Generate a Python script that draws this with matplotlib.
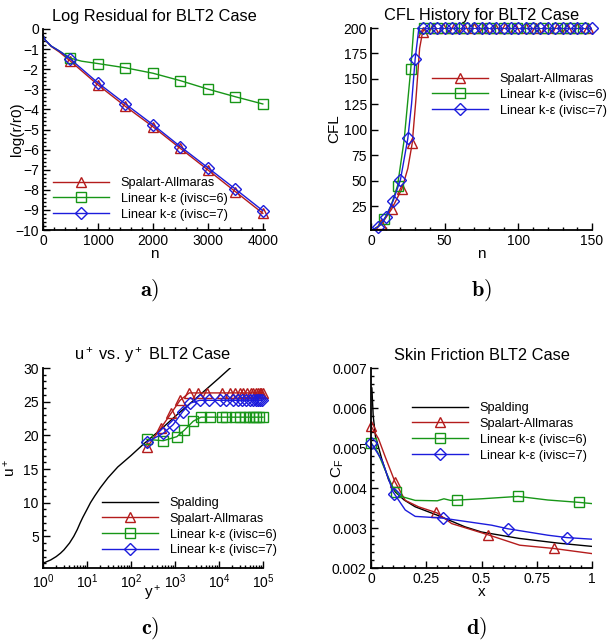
import matplotlib.pyplot as plt
from matplotlib.lines import Line2D
from matplotlib.ticker import MultipleLocator, FormatStrFormatter, NullFormatter, LogLocator

plt.rcParams['font.family'] = 'Liberation Sans'
plt.rcParams['mathtext.fontset'] = 'custom'
plt.rcParams['mathtext.rm'] = 'Liberation Sans'
plt.rcParams['mathtext.it'] = 'Liberation Sans:italic'
plt.rcParams['mathtext.bf'] = 'Liberation Sans:bold'

RED = '#b41c1c'
GREEN = '#179617'
BLUE = '#1c1cdc'
LABELS = ['Spalart-Allmaras', 'Linear k-\u03b5 (ivisc=6)', 'Linear k-\u03b5 (ivisc=7)']

# a) residual history
res_n = [0, 40, 150, 300, 500, 1000, 1500, 2000, 2500, 3000, 3500, 4000]
res_sa = [-0.3, -0.55, -0.87, -1.15, -1.6, -2.78, -3.85, -4.86, -5.94, -7.01, -8.09, -9.17]
res_ke7 = [-0.3, -0.55, -0.85, -1.1, -1.5, -2.68, -3.73, -4.76, -5.85, -6.9, -7.96, -9.04]
res_n6 = [0, 40, 150, 300, 500, 700, 1000, 1500, 2000, 2500, 3000, 3500, 4000]
res_ke6 = [-0.3, -0.55, -0.85, -1.1, -1.45, -1.6, -1.72, -1.93, -2.2, -2.57, -2.99, -3.37, -3.73]

# b) CFL history (lines and symbol positions)
cfl_n_sa = [1, 7, 14, 21, 25, 28, 30.5, 33, 35, 36.5, 150]
cfl_sa = [1.5, 7, 22, 42, 62, 87, 130, 180, 196, 200, 200]
cfl_n_ke6 = [1, 5, 9, 13.5, 18, 22.5, 27, 29, 150]
cfl_ke6 = [1.5, 5, 12, 25, 45, 90, 160, 200, 200]
cfl_n_ke7 = [1, 5, 10, 15, 20, 25, 27.5, 30, 32.5, 150]
cfl_ke7 = [1.5, 4.7, 14.5, 30, 51, 91.5, 125, 170, 200, 200]
sym_n_sa = list(range(7, 148, 7))
sym_sa = [7, 22, 42, 87, 196] + [200] * 16
sym_n_ke6 = list(range(9, 145, 9))
sym_ke6 = [12, 45, 160] + [200] * 13
sym_n_ke7 = list(range(5, 151, 5))
sym_ke7 = [4.7, 14.5, 30, 51, 91.5, 170] + [200] * 24

# c) velocity profile
spal_yp = [1, 1.5, 2, 2.5, 3, 4, 5, 6, 7, 8, 10, 12, 15, 20, 30, 50, 100, 200, 500,
           1000, 3000, 10000, 18000]
spal_up = [1.0, 1.5, 2.0, 2.5, 3.0, 4.0, 5.0, 6.0, 7.0, 7.8, 9.0, 10.0, 11.0, 12.2, 13.7,
           15.3, 17.0, 18.8, 21.0, 22.8, 25.5, 28.5, 30.0]
up_yp_sa = [230, 480, 820, 1300, 2100, 3400, 5200, 12000, 17500, 23000, 29500, 36000,
            43500, 52000, 60000, 68000, 76000, 84000, 92000, 100000]
up_sa = [18.2, 21.1, 23.3, 25.2, 26.3] + [26.3] * 15
up_yp_ke6 = [230, 540, 1100, 1620, 2600, 3900, 6200, 11500, 14800, 22900, 29500, 38000,
             47900, 58900, 70800, 83200, 100000]
up_ke6 = [19.4, 19.2, 19.8, 20.75, 22.1] + [22.7] * 12
up_yp_ke7 = [230, 540, 910, 1490, 2250, 3650, 6000, 10500, 14800, 20900, 26900, 33900,
             41700, 50100, 58900, 67600, 77600, 87100, 95500]
up_ke7 = [19.0, 20.3, 21.6, 23.5, 24.8] + [25.2] * 14

# d) skin friction
cf_x_spal = [0.004, 0.01, 0.02, 0.05, 0.08, 0.11, 0.15, 0.2, 0.3, 0.425, 0.5, 0.67, 0.85, 1.0]
cf_spal = [0.0065, 0.0058, 0.0053, 0.0047, 0.0042, 0.0039, 0.0037, 0.00353, 0.00332,
           0.00303, 0.0029, 0.00274, 0.00262, 0.00254]
cf_x_sa = [0, 0.034, 0.065, 0.108, 0.155, 0.215, 0.298, 0.365, 0.53, 0.673, 0.824, 1.0]
cf_sa = [0.00555, 0.00523, 0.00477, 0.00416, 0.00369, 0.00353, 0.00338, 0.00311,
         0.00283, 0.00257, 0.00249, 0.00236]
cf_x_ke6 = [0, 0.03, 0.06, 0.1, 0.13, 0.2, 0.3, 0.33, 0.36, 0.5, 0.666, 0.8, 0.943, 1.0]
cf_ke6 = [0.00513, 0.0049, 0.0045, 0.004, 0.0038, 0.00369, 0.00368, 0.00373, 0.00369,
          0.00373, 0.00379, 0.0037, 0.00364, 0.00361]
cf_x_ke7 = [0, 0.05, 0.1, 0.155, 0.2, 0.32, 0.546, 0.62, 0.8, 0.887, 1.0]
cf_ke7 = [0.00513, 0.00469, 0.0039, 0.00345, 0.00329, 0.00325, 0.00307, 0.00298,
          0.00282, 0.00276, 0.00272]
cf_sym_x_sa = [0, 0.108, 0.296, 0.531, 0.827]
cf_sym_sa = [0.00555, 0.00416, 0.00339, 0.00283, 0.0025]
cf_sym_x_ke6 = [0, 0.113, 0.388, 0.666, 0.943]
cf_sym_ke6 = [0.00513, 0.00391, 0.0037, 0.00379, 0.00364]
cf_sym_x_ke7 = [0, 0.105, 0.328, 0.62, 0.887]
cf_sym_ke7 = [0.00513, 0.00384, 0.00325, 0.00298, 0.00276]

W, H = 608, 643
fig = plt.figure(figsize=(W / 100, H / 100), dpi=100)


def box(l, t, r, b):
    return [l / W, 1 - b / H, (r - l) / W, (b - t) / H]


def style_axes(ax):
    for s in ('top', 'right'):
        ax.spines[s].set_visible(False)
    for s in ('left', 'bottom'):
        ax.spines[s].set_linewidth(1.3)
    ax.tick_params(which='both', direction='in', labelsize=10, width=1,
                   top=False, right=False)
    ax.tick_params(which='major', length=5, pad=3)
    ax.tick_params(which='minor', length=2.5)


MK = dict(mfc='none', mew=1.0, clip_on=False)
SYM = {'^': 7.7, 's': 6.6, 'D': 6.0}


def handles(with_spalding=False):
    hs = []
    if with_spalding:
        hs.append(Line2D([], [], color='black', lw=1.0))
    for c, m in zip((RED, GREEN, BLUE), ('^', 's', 'D')):
        hs.append(Line2D([], [], color=c, lw=1.0, marker=m, ms=SYM[m], mfc='none', mew=1.0))
    return hs


def add_legend(ax, x, y, with_spalding=False):
    labels = (['Spalding'] if with_spalding else []) + LABELS
    ax.legend(handles(with_spalding), labels, loc='upper left',
              bbox_to_anchor=(x / W, 1 - y / H), bbox_transform=fig.transFigure,
              frameon=False, fontsize=9.2, handlelength=4.4, handletextpad=0.9,
              labelspacing=0.3, borderpad=0, borderaxespad=0)


def labels(ax, xlabel, ylabel, ylab_x, xpad):
    ax.set_xlabel(xlabel, fontsize=11, labelpad=xpad)
    ax.set_ylabel(ylabel, fontsize=11)
    ax.yaxis.set_label_coords(ylab_x, 0.5)


# ---- a) ----
ax = fig.add_axes(box(43, 29, 265, 230))
style_axes(ax)
ax.plot(res_n, res_sa, color=RED, lw=1.0, marker='^', ms=SYM['^'],
        markevery=slice(4, None), **MK)
ax.plot(res_n6, res_ke6, color=GREEN, lw=1.0, marker='s', ms=SYM['s'],
        markevery=[4] + list(range(6, 13)), **MK)
ax.plot(res_n, res_ke7, color=BLUE, lw=1.0, marker='D', ms=SYM['D'],
        markevery=slice(4, None), **MK)
ax.set_xlim(0, 4040)
ax.set_ylim(-10, 0)
ax.xaxis.set_major_locator(MultipleLocator(1000))
ax.xaxis.set_minor_locator(MultipleLocator(200))
ax.yaxis.set_major_locator(MultipleLocator(1))
ax.yaxis.set_minor_locator(MultipleLocator(0.2))
labels(ax, 'n', 'log(r/r0)', -0.085, -1)
ax.set_title('Log Residual for BLT2 Case', fontsize=11.8, pad=6)
add_legend(ax, 53, 177)

# ---- b) ----
ax = fig.add_axes(box(371, 28, 592, 230))
style_axes(ax)
for n, v, sn, sv, c, m in ((cfl_n_sa, cfl_sa, sym_n_sa, sym_sa, RED, '^'),
                           (cfl_n_ke6, cfl_ke6, sym_n_ke6, sym_ke6, GREEN, 's'),
                           (cfl_n_ke7, cfl_ke7, sym_n_ke7, sym_ke7, BLUE, 'D')):
    ax.plot(n, v, color=c, lw=1.0)
    ax.plot(sn, sv, ls='none', color=c, marker=m, ms=SYM[m], **MK)
ax.set_xlim(0, 150)
ax.set_ylim(1.5, 200)
ax.xaxis.set_major_locator(MultipleLocator(50))
ax.xaxis.set_minor_locator(MultipleLocator(10))
ax.set_yticks(range(25, 201, 25))
labels(ax, 'n', 'CFL', -0.135, -1)
ax.set_title('CFL History for BLT2 Case', fontsize=11.8, pad=6)
add_legend(ax, 432, 73)

# ---- c) ----
ax = fig.add_axes(box(43, 368, 263, 568))
style_axes(ax)
ax.set_xscale('log')
ax.plot(spal_yp, spal_up, color='black', lw=1.0)
ax.plot(up_yp_sa, up_sa, color=RED, lw=1.0, marker='^', ms=SYM['^'], **MK)
ax.plot(up_yp_ke6, up_ke6, color=GREEN, lw=1.0, marker='s', ms=SYM['s'], **MK)
ax.plot(up_yp_ke7, up_ke7, color=BLUE, lw=1.0, marker='D', ms=SYM['D'], **MK)
ax.set_xlim(1, 1e5)
ax.set_ylim(0.3, 30)
ax.xaxis.set_major_locator(LogLocator(base=10, numticks=10))
ax.xaxis.set_minor_locator(LogLocator(base=10, subs=range(2, 10), numticks=10))
ax.xaxis.set_minor_formatter(NullFormatter())
ax.yaxis.set_major_locator(MultipleLocator(5))
ax.yaxis.set_minor_locator(MultipleLocator(1))
labels(ax, 'y$^+$', 'u$^+$', -0.115, -5)
ax.set_title('u$^+$ vs. y$^+$ BLT2 Case', fontsize=11.8, pad=6)
add_legend(ax, 102, 497, with_spalding=True)

# ---- d) ----
ax = fig.add_axes(box(371, 368, 592, 568))
style_axes(ax)
ax.plot(cf_x_spal, cf_spal, color='black', lw=1.0)
for x, y, sx, sy, c, m in ((cf_x_sa, cf_sa, cf_sym_x_sa, cf_sym_sa, RED, '^'),
                           (cf_x_ke6, cf_ke6, cf_sym_x_ke6, cf_sym_ke6, GREEN, 's'),
                           (cf_x_ke7, cf_ke7, cf_sym_x_ke7, cf_sym_ke7, BLUE, 'D')):
    ax.plot(x, y, color=c, lw=1.0)
    ax.plot(sx, sy, ls='none', color=c, marker=m, ms=SYM[m], **MK)
ax.set_xlim(0, 1)
ax.set_ylim(0.002, 0.007)
ax.set_xticks([0, 0.25, 0.5, 0.75, 1])
ax.xaxis.set_major_formatter(FormatStrFormatter('%g'))
ax.xaxis.set_minor_locator(MultipleLocator(0.05))
ax.yaxis.set_major_locator(MultipleLocator(0.001))
ax.yaxis.set_major_formatter(FormatStrFormatter('%.3f'))
ax.yaxis.set_minor_locator(MultipleLocator(0.0002))
labels(ax, 'x', 'C$_{\\rm F}$', -0.115, -1)
ax.set_title('Skin Friction BLT2 Case', fontsize=11.8, pad=6)
add_legend(ax, 412, 402, with_spalding=True)

# panel tags
for tag, x, y in (('a)', 150, 290), ('b)', 481, 290), ('c)', 150, 628), ('d)', 476, 628)):
    fig.text(x / W, 1 - y / H, '$\\mathbf{' + tag + '}$', math_fontfamily='cm',
             fontsize=16, ha='center', va='center')

fig.savefig('out.png', dpi=100)
